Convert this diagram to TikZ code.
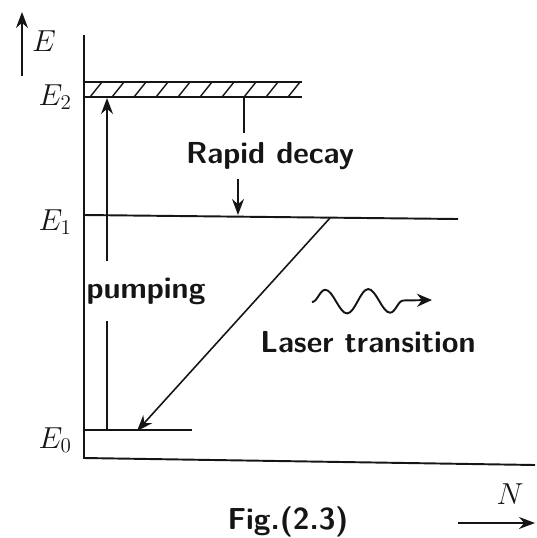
\documentclass[tikz,border=0pt]{standalone}
\usepackage{amsmath}
\usepackage{tikz}
\usetikzlibrary{arrows.meta,calc,positioning,decorations.pathmorphing}
\definecolor{ink}{HTML}{151515}

\begin{document}
\begin{tikzpicture}[x=0.02cm,y=-0.02cm,font=\sffamily\bfseries,color=ink,
  axisline/.style={line width=1.1pt},
  levelline/.style={line width=1.1pt},
  arrowline/.style={line width=0.9pt,-{Stealth[length=3.2mm,width=2.4mm]}},
  lvllabel/.style={font=\LARGE,anchor=east},
  tag/.style={font=\sffamily\bfseries\LARGE,inner sep=2pt}]
  \useasboundingbox (0,0) rectangle (537,538);
  % axes
  \coordinate (origin) at (84,458);
  \draw[axisline] (84,35) -- (origin) -- (535,465);
  \draw[arrowline] (22,76) -- (22,12) node[pos=0.55,right=2pt,font=\LARGE] (elab) {$E$};
  % levels
  \coordinate (e2l) at (84,97); \coordinate (e2r) at (302,97);
  \coordinate (e1l) at (84,215); \coordinate (e1r) at (458,219);
  \coordinate (e0l) at (84,430); \coordinate (e0r) at (192,430);
  \begin{scope}
    \clip (84,82) rectangle (302,97);
    \foreach \x in {90,112,...,310}
      \draw[line width=0.8pt] (\x,97) -- ++(12,-15);
  \end{scope}
  \draw[levelline] (84,82) -- (302,82);
  \draw[levelline] (e2l) -- (e2r);
  \draw[levelline] (e1l) -- (e1r);
  \draw[levelline] (e0l) -- (e0r);
  \node[lvllabel] (e2lab) at (78,97) {$E_2$};
  \node[lvllabel] (e1lab) at (78,222) {$E_1$};
  \node[lvllabel] (e0lab) at (78,440) {$E_0$};
  % pumping
  \coordinate (pumpbot) at (107,430);
  \coordinate (pumptop) at (107,98);
  \node[tag,inner ysep=9pt] (pumping) at (146,291) {pumping};
  \draw[line width=0.9pt] (pumpbot) -- (pumping.south -| pumpbot);
  \draw[arrowline] (pumping.north -| pumpbot) -- (pumptop);
  % rapid decay
  \coordinate (decaytop) at (244,97);
  \coordinate (decaybot) at (238,215);
  \node[tag,inner ysep=5pt] (decay) at (270,156) {Rapid decay};
  \draw[line width=0.9pt] (decaytop) -- (decay.north -| decaytop);
  \draw[arrowline] (decay.south -| decaybot) -- (decaybot);
  % laser transition
  \coordinate (lasertop) at (330,218);
  \coordinate (laserbot) at (137,431);
  \draw[arrowline] (lasertop) -- (laserbot);
  \coordinate (wavestart) at (312,302);
  \coordinate (waveend) at (432,300);
  \draw[line width=1.1pt,-{Stealth[length=3mm,width=2.6mm]},
    decorate,decoration={snake,amplitude=2.4mm,segment length=8.6mm,post length=4mm}]
    (wavestart) -- (waveend);
  \node[tag] (lasertext) at (368,342) {Laser transition};
  % N axis and caption
  \node[font=\LARGE] (nlab) at (510,494) {$N$};
  \coordinate (narrowstart) at (458,523);
  \coordinate (narrowend) at (535,523);
  \draw[arrowline] (narrowstart) -- (narrowend);
  \node[tag] (caption) at (288,522) {Fig.(2.3)};
\end{tikzpicture}
\end{document}
